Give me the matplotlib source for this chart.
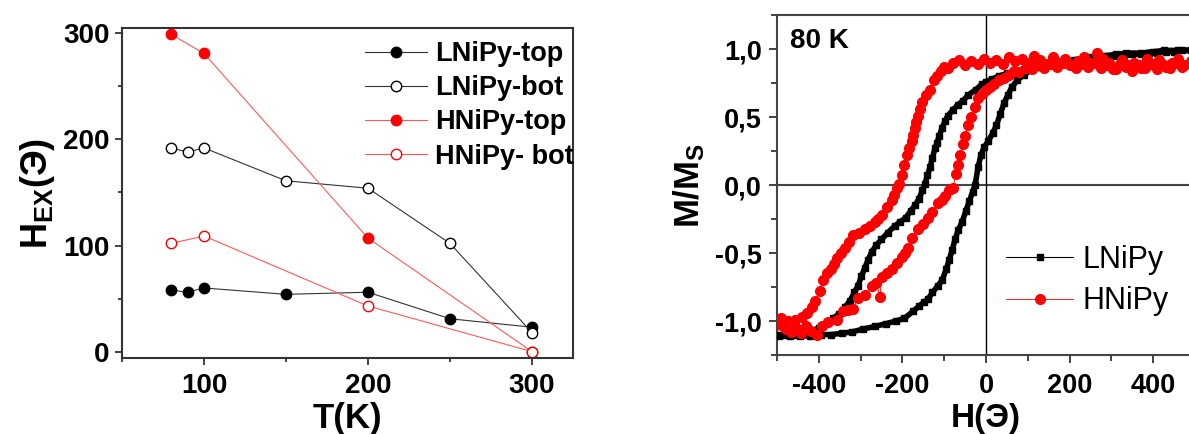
import numpy as np
import matplotlib
matplotlib.use("Agg")
import matplotlib.pyplot as plt
from matplotlib.ticker import MultipleLocator, FuncFormatter

plt.rcParams['font.family'] = ['Liberation Sans', 'DejaVu Sans']
plt.rcParams['mathtext.fontset'] = 'custom'
plt.rcParams['mathtext.rm'] = 'Liberation Sans'
plt.rcParams['mathtext.bf'] = 'Liberation Sans:bold'
plt.rcParams['axes.unicode_minus'] = False

# exchange bias vs temperature
t_ltop = [80, 90, 100, 150, 200, 250, 300]
hex_ltop = [58, 56, 60, 54, 56, 31, 23]
t_lbot = [80, 90, 100, 150, 200, 250, 300]
hex_lbot = [192, 188, 192, 161, 154, 102, 18]
t_htop = [80, 100, 200, 300]
hex_htop = [299, 281, 107, 0]
t_hbot = [80, 100, 200, 300]
hex_hbot = [102, 109, 43, 0]

# hysteresis loops at 80 K, LNiPy (descending then ascending branch)
h_l_down = [490, 470, 450, 430, 410, 390, 370, 350, 330, 310, 290, 270, 250, 230, 210, 190, 170,
            150, 130, 110, 90, 70, 50, 30, 15, 0, -10, -25, -43, -55, -67, -80, -91, -98, -105,
            -112, -117, -122, -128, -134, -140, -146, -152, -160, -170, -180, -192, -205, -218,
            -235, -250, -262, -273, -282, -290, -298, -306, -315, -325, -338, -352, -366, -380,
            -400, -420, -440, -460, -480, -495]
m_l_down = [0.99, 0.99, 0.98, 0.98, 0.97, 0.97, 0.96, 0.96, 0.95, 0.95, 0.94, 0.93, 0.93, 0.92,
            0.91, 0.90, 0.89, 0.88, 0.87, 0.86, 0.85, 0.84, 0.82, 0.80, 0.78, 0.76, 0.74, 0.70,
            0.66, 0.62, 0.59, 0.55, 0.51, 0.47, 0.42, 0.36, 0.31, 0.27, 0.20, 0.13, 0.07, 0.01,
            -0.04, -0.10, -0.15, -0.19, -0.24, -0.27, -0.30, -0.35, -0.40, -0.44, -0.49, -0.55,
            -0.61, -0.67, -0.74, -0.79, -0.85, -0.90, -0.95, -0.98, -1.01, -1.05, -1.08, -1.09,
            -1.10, -1.10, -1.10]
h_l_up = [-495, -470, -445, -420, -395, -370, -345, -320, -295, -266, -240, -215, -195, -175,
          -160, -148, -139, -128, -115, -105, -95, -88, -81, -74, -66, -57, -48, -40, -32, -26,
          -19, -12, -4, 5, 16, 25, 34, 43, 52, 62, 75, 90, 111, 130, 156, 180, 210, 246, 280,
          310, 336, 370, 400, 426, 460, 490]
m_l_up = [-1.11, -1.11, -1.11, -1.11, -1.10, -1.10, -1.09, -1.08, -1.06, -1.04, -1.02, -1.00,
          -0.98, -0.93, -0.89, -0.86, -0.84, -0.79, -0.74, -0.70, -0.62, -0.55, -0.48, -0.40,
          -0.33, -0.27, -0.19, -0.12, -0.05, 0.00, 0.13, 0.22, 0.28, 0.32, 0.38, 0.44, 0.52,
          0.60, 0.66, 0.72, 0.77, 0.81, 0.85, 0.87, 0.89, 0.90, 0.92, 0.94, 0.95, 0.96, 0.97,
          0.97, 0.98, 0.99, 0.99, 0.99]

# HNiPy
h_h_down = [490, 475, 460, 445, 430, 415, 400, 385, 370, 355, 340, 325, 310, 295, 280, 265, 250,
            235, 220, 205, 190, 175, 160, 145, 130, 115, 100, 85, 70, 55, 40, 25, 10, -5, -20,
            -35, -50, -65, -80, -92, -100, -108, -116, -124, -134, -144, -153, -158, -163, -167,
            -170, -174, -177, -183, -189, -195, -201, -207, -213, -219, -225, -237, -249, -258,
            -266, -278, -290, -304, -318, -328, -338, -348, -356, -364, -372, -380, -390, -398,
            -408, -417, -428, -441, -456, -474, -490]
m_h_down = [0.91, 0.88, 0.93, 0.90, 0.87, 0.92, 0.89, 0.93, 0.86, 0.90, 0.88, 0.92, 0.85, 0.90,
            0.93, 0.97, 0.90, 0.94, 0.91, 0.88, 0.93, 0.90, 0.94, 0.89, 0.92, 0.95, 0.90, 0.93,
            0.91, 0.94, 0.89, 0.92, 0.90, 0.93, 0.89, 0.91, 0.88, 0.92, 0.90, 0.86, 0.87, 0.84,
            0.80, 0.77, 0.70, 0.66, 0.61, 0.56, 0.51, 0.46, 0.42, 0.37, 0.32, 0.27, 0.22, 0.15,
            0.07, 0.01, -0.02, -0.07, -0.11, -0.16, -0.22, -0.25, -0.27, -0.30, -0.32, -0.35,
            -0.37, -0.42, -0.46, -0.50, -0.54, -0.58, -0.62, -0.65, -0.70, -0.78, -0.85, -0.90,
            -0.94, -0.97, -0.99, -1.00, -0.98]
h_h_up = [-490, -478, -466, -454, -442, -430, -418, -405, -393, -378, -357, -342, -330, -318,
          -306, -290, -273, -262, -254, -249, -237, -225, -213, -201, -193, -187, -177, -163,
          -150, -139, -128, -115, -105, -98, -88, -79, -72, -67, -62, -55, -49, -43, -36, -26,
          -19, -10, 0, 10, 20, 30, 42, 55, 68, 80, 95, 110, 125, 140, 155, 170, 185, 200, 215,
          230, 245, 260, 275, 290, 305, 320, 335, 350, 365, 380, 395, 410, 425, 440, 455, 470,
          490]
m_h_up = [-1.03, -1.06, -1.08, -1.05, -1.09, -1.04, -1.07, -1.10, -1.04, -1.01, -0.99, -0.93,
          -0.92, -0.91, -0.83, -0.81, -0.74, -0.72, -0.82, -0.68, -0.65, -0.62, -0.57, -0.53,
          -0.50, -0.46, -0.39, -0.32, -0.29, -0.24, -0.20, -0.13, -0.11, -0.08, -0.04, -0.02,
          0.08, 0.15, 0.22, 0.30, 0.36, 0.44, 0.50, 0.57, 0.64, 0.67, 0.70, 0.72, 0.74, 0.77,
          0.79, 0.81, 0.84, 0.83, 0.86, 0.85, 0.88, 0.86, 0.89, 0.87, 0.90, 0.88, 0.86, 0.89,
          0.87, 0.90, 0.86, 0.88, 0.85, 0.89, 0.87, 0.84, 0.88, 0.86, 0.89, 0.85, 0.88, 0.86,
          0.90, 0.87, 0.89]

red = '#ff0000'
line_red = '#ff5a5a'
line_blk = '#333333'

fig = plt.figure(figsize=(11.89, 4.34), dpi=100)
ax = fig.add_axes([0.1026, 0.1751, 0.3793, 0.7604])
ax2 = fig.add_axes([0.6535, 0.182, 0.3515, 0.7834])

ms = 7.5
ax.plot(t_ltop, hex_ltop, '-o', color=line_blk, lw=0.8, ms=ms, mfc='black', mec='black',
        label='LNiPy-top')
ax.plot(t_lbot, hex_lbot, '-o', color=line_blk, lw=0.8, ms=ms, mfc='white', mec='black',
        mew=1.0, label='LNiPy-bot')
ax.plot(t_htop, hex_htop, '-o', color=line_red, lw=0.8, ms=ms, mfc=red, mec=red,
        label='HNiPy-top')
ax.plot(t_hbot, hex_hbot, '-o', color=line_red, lw=0.8, ms=ms, mfc='white', mec=red,
        mew=1.0, label='HNiPy- bot')

ax.set_xlim(50, 325)
ax.set_ylim(-6, 305)
ax.xaxis.set_major_locator(MultipleLocator(100))
ax.xaxis.set_minor_locator(MultipleLocator(50))
ax.yaxis.set_major_locator(MultipleLocator(100))
ax.yaxis.set_minor_locator(MultipleLocator(50))
ax.tick_params(which='both', direction='out', width=1.2, color='#222222')
ax.tick_params(which='major', length=5, labelsize=20)
ax.tick_params(which='minor', length=3)
ax.tick_params(axis='y', pad=4)
ax.tick_params(axis='x', pad=6)
for lab in ax.get_xticklabels() + ax.get_yticklabels():
    lab.set_fontweight('bold')
for s in ax.spines.values():
    s.set_linewidth(1.5)
    s.set_color('#333333')
ax.set_xlabel('T(K)', fontsize=25, fontweight='bold', labelpad=2)
ax.set_ylabel(r'$\mathbf{H_{EX}}$(Э)', fontsize=26, fontweight='bold', labelpad=4)
ax.legend(loc='upper left', bbox_to_anchor=(0.307, 0.905), bbox_transform=fig.transFigure,
          frameon=False, handlelength=2.3, handletextpad=0.3, labelspacing=0.3,
          borderpad=0, borderaxespad=0, prop={'size': 19.5, 'weight': 'bold'})

# hysteresis panel
ax2.axhline(0, color='#444444', lw=1.5, zorder=1)
ax2.axvline(0, color='black', lw=1.0, zorder=1)
ax2.plot(h_l_down, m_l_down, color='black', lw=4, zorder=2)
ax2.plot(h_l_up, m_l_up, color='black', lw=4, zorder=2)
ax2.plot(h_l_down, m_l_down, '-s', color='black', lw=0.8, ms=4.5, zorder=3, label='LNiPy')
ax2.plot(h_l_up, m_l_up, '-s', color='black', lw=0.8, ms=4.5, zorder=3)
ax2.plot(h_h_down, m_h_down, '-o', color=red, lw=0.6, ms=7, zorder=4, label='HNiPy')
ax2.plot(h_h_up, m_h_up, '-o', color=red, lw=0.6, ms=7, zorder=4)

ax2.set_xlim(-500, 500)
ax2.set_ylim(-1.25, 1.25)
ax2.xaxis.set_major_locator(MultipleLocator(200))
ax2.xaxis.set_minor_locator(MultipleLocator(100))
ax2.yaxis.set_major_locator(MultipleLocator(0.5))
ax2.yaxis.set_minor_locator(MultipleLocator(0.25))
ax2.yaxis.set_major_formatter(FuncFormatter(lambda v, p: f'{v:.1f}'.replace('.', ',')))
ax2.tick_params(which='both', direction='out', width=1.2, color='#222222')
ax2.tick_params(which='major', length=6, labelsize=19.5)
ax2.tick_params(which='minor', length=4)
ax2.tick_params(axis='x', pad=7)
ax2.tick_params(axis='y', pad=5)
for lab in ax2.get_xticklabels() + ax2.get_yticklabels():
    lab.set_fontweight('bold')
for s in ax2.spines.values():
    s.set_linewidth(1.5)
    s.set_color('#444444')
ax2.set_xlabel('H(Э)', fontsize=24, fontweight='bold', labelpad=3)
ax2.set_ylabel(r'$\mathbf{M/M_S}$', fontsize=25, fontweight='bold', labelpad=6)
ax2.text(0.03, 0.925, '80 K', transform=ax2.transAxes, fontsize=20, fontweight='bold',
         va='center', ha='left')
ax2.legend(loc='upper left', bbox_to_anchor=(0.846, 0.436), bbox_transform=fig.transFigure,
           frameon=False, handlelength=2.2, handletextpad=0.3, labelspacing=0.38,
           borderpad=0, borderaxespad=0, prop={'size': 22})

fig.savefig('out.png', dpi=100)
